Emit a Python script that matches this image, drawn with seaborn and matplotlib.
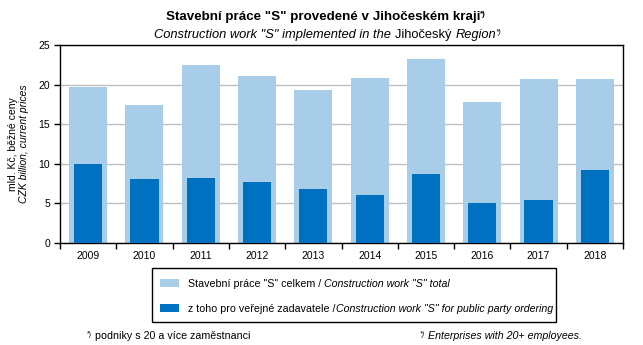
import matplotlib
matplotlib.use("Agg")
import matplotlib.pyplot as plt
import seaborn as sns
import pandas as pd
import numpy as np
from matplotlib.patches import Rectangle

years = ["2009", "2010", "2011", "2012", "2013", "2014", "2015", "2016", "2017", "2018"]
total = [19.7, 17.4, 22.5, 21.1, 19.3, 20.8, 23.2, 17.8, 20.7, 20.7]
public = [10.0, 8.1, 8.2, 7.7, 6.8, 6.1, 8.7, 5.0, 5.4, 9.2]
yticks = [0, 5, 10, 15, 20, 25]

LIGHT = "#a8cde8"
DARK = "#0070c0"

sns.set_theme(style="white")
plt.rcParams['font.family'] = ['Liberation Sans', 'DejaVu Sans']
plt.rcParams['text.color'] = 'black'
plt.rcParams['axes.labelcolor'] = 'black'
plt.rcParams['xtick.color'] = 'black'
plt.rcParams['ytick.color'] = 'black'

W, H = 643, 345
fig = plt.figure(figsize=(W / 100, H / 100), dpi=100)
ax = fig.add_axes([60 / W, (H - 243) / H, (623 - 60) / W, (243 - 45) / H])

df = pd.DataFrame({"year": years, "total": total, "public": public})
sns.barplot(data=df, x="year", y="total", color=LIGHT, width=0.675, saturation=1,
            ax=ax, zorder=2, edgecolor="none", linewidth=0)
sns.barplot(data=df, x="year", y="public", color=DARK, width=0.5, saturation=1,
            ax=ax, zorder=3, edgecolor="none", linewidth=0)

ax.set_xlim(-0.5, len(years) - 0.5)
ax.set_ylim(0, 25)
ax.set_yticks(yticks)
ax.set_xlabel("")
ax.set_ylabel("")
ax.yaxis.grid(True, color="#bfbfbf", linewidth=1, zorder=0)
ax.set_axisbelow(True)
for s in ax.spines.values():
    s.set_visible(True)
    s.set_color("black")
    s.set_linewidth(1)
ax.tick_params(axis="y", which="major", length=4, width=1, color="black",
               direction="out", labelsize=7.5, pad=3, left=True)
ax.tick_params(axis="x", which="major", length=0, labelsize=7.5, pad=6)
ax.set_xticks(np.arange(-0.5, len(years)), minor=True)
ax.tick_params(axis="x", which="minor", length=4, width=1, color="black",
               direction="out", bottom=True)
for lbl in ax.get_xticklabels() + ax.get_yticklabels():
    lbl.set_color("black")

renderer = fig.canvas.get_renderer()


def rich(parts, x, y, align="center"):
    """parts: list of (text, kwargs, dy_px). x,y in figure pixels (y from top)."""
    widths = []
    for t, kw, dy in parts:
        tmp = fig.text(0, 0, t, **kw)
        bb = tmp.get_window_extent(renderer)
        widths.append(bb.width)
        tmp.remove()
    total_w = sum(widths)
    if align == "center":
        cx = x - total_w / 2
    else:
        cx = x
    for (t, kw, dy), w in zip(parts, widths):
        fig.text(cx / W, (H - y + dy) / H, t, va="baseline", ha="left", color="black", **kw)
        cx += w


# Titles
rich([("Stavební práce \"S\" provedené v Jihočeském kraji", dict(fontsize=9.6, fontweight="bold"), 0),
      ("*)", dict(fontsize=5.8, fontweight="bold"), 4)], 326, 20)
rich([("Construction work \"S\" implemented in the ", dict(fontsize=9.3, style="italic"), 0),
      ("Jihočeský ", dict(fontsize=9.3), 0),
      ("Region", dict(fontsize=9.3, style="italic"), 0),
      ("*)", dict(fontsize=5.8, style="italic"), 4)], 328, 38)

# Y label
fig.text(13 / W, (H - 144) / H, "mld. Kč, běžné ceny", rotation=90, ha="center",
         va="center", fontsize=7.5, color="black")
fig.text(24 / W, (H - 144) / H, "CZK billion, current prices", rotation=90, ha="center",
         va="center", fontsize=7.5, style="italic", color="black")

# Legend
fig.patches.append(Rectangle((152 / W, (H - 322) / H), (556 - 152) / W, (322 - 268) / H,
                             transform=fig.transFigure, facecolor="white",
                             edgecolor="black", linewidth=1))
fig.patches.append(Rectangle((160 / W, (H - 287) / H), 19 / W, 8 / H,
                             transform=fig.transFigure, facecolor=LIGHT, edgecolor="none"))
fig.patches.append(Rectangle((160 / W, (H - 312) / H), 19 / W, 8 / H,
                             transform=fig.transFigure, facecolor=DARK, edgecolor="none"))
rich([("Stavební práce \"S\" celkem / ", dict(fontsize=7.7), 0),
      ("Construction work \"S\" total", dict(fontsize=7.7, style="italic"), 0)], 188, 287, align="left")
rich([("z toho pro veřejné zadavatele /", dict(fontsize=7.7), 0),
      ("Construction work \"S\" for public party ordering", dict(fontsize=7.7, style="italic"), 0)],
     188, 312, align="left")

# Footnotes
rich([("*)", dict(fontsize=5), 3), (" podniky s 20 a více zaměstnanci", dict(fontsize=7.7), 0)],
     87, 339, align="left")
rich([("*)", dict(fontsize=5, style="italic"), 3),
      (" Enterprises with 20+ employees.", dict(fontsize=7.7, style="italic"), 0)],
     420, 339, align="left")

fig.savefig("out.png", dpi=100)
